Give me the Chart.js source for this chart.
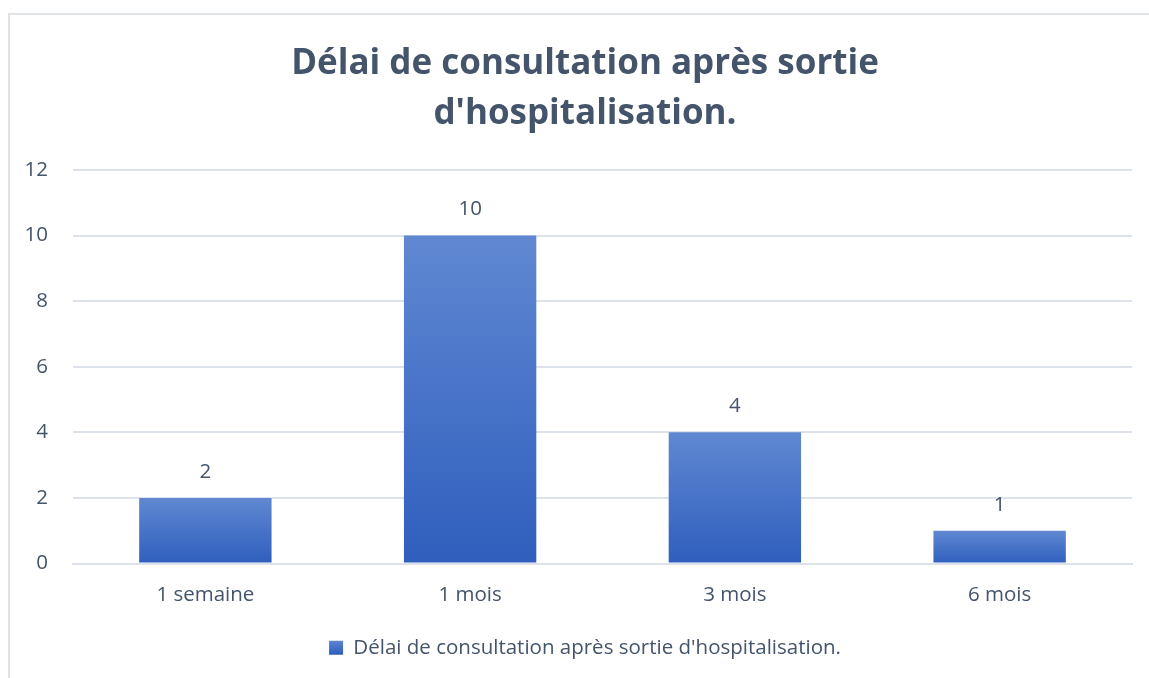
<!DOCTYPE html>
<html>
<head>
<meta charset="utf-8">
<script src="https://cdn.jsdelivr.net/npm/chart.js@4/dist/chart.umd.min.js"></script>
<style>
  html, body { margin: 0; padding: 0; background: #ffffff; }
  body { width: 1149px; height: 678px; position: relative; overflow: hidden; }
  #frame { position: absolute; left: 8px; top: 13px; width: 1200px; height: 720px; border: 2px solid #dfe3e8; box-sizing: border-box; }
  #wrap { position: absolute; left: 0; top: 0; width: 1149px; height: 678px; }
</style>
</head>
<body>
<div id="frame"></div>
<div id="wrap"><canvas id="c" width="1149" height="678"></canvas></div>
<script>
const titleLines = ["Délai de consultation après sortie", "d'hospitalisation."];
const seriesName = "Délai de consultation après sortie d'hospitalisation.";
const categories = ["1 semaine", "1 mois", "3 mois", "6 mois"];
const values = [2, 10, 4, 1];
const yTicks = [0, 2, 4, 6, 8, 10, 12];

const TEXT = '#44546a';
const FONT = '"Open Sans", "Noto Sans", sans-serif';
const FS = 20.5;
const TOP_COL = '#6088d2';
const BOT_COL = '#2f5ebd';

function barGradient(ctx) {
  const chart = ctx.chart;
  const y = chart.scales.y;
  if (!y || ctx.dataIndex === undefined) return BOT_COL;
  const v = chart.data.datasets[ctx.datasetIndex].data[ctx.dataIndex];
  const top = y.getPixelForValue(v);
  const bottom = y.getPixelForValue(0);
  if (!isFinite(top) || !isFinite(bottom) || top === bottom) return BOT_COL;
  const g = chart.ctx.createLinearGradient(0, top, 0, bottom);
  g.addColorStop(0, TOP_COL);
  g.addColorStop(1, BOT_COL);
  return g;
}

const valueLabels = {
  id: 'valueLabels',
  afterDatasetsDraw(chart) {
    const ctx = chart.ctx;
    const meta = chart.getDatasetMeta(0);
    ctx.save();
    ctx.font = FS + 'px ' + FONT;
    ctx.fillStyle = TEXT;
    ctx.textAlign = 'center';
    ctx.textBaseline = 'middle';
    meta.data.forEach((el, i) => {
      ctx.fillText(String(values[i]), el.x, el.y - 26);
    });
    ctx.restore();
  }
};

// centre title and legend on the frame rather than on the canvas
const shiftBlocks = {
  id: 'shiftBlocks',
  beforeDraw(chart) {
    if (chart.titleBlock) chart.titleBlock.left = 38;
    if (chart.legend) chart.legend.left = 38;
  }
};

new Chart(document.getElementById('c'), {
  type: 'bar',
  data: {
    labels: categories,
    datasets: [{
      label: seriesName,
      data: values,
      backgroundColor: barGradient,
      borderWidth: 0,
      categoryPercentage: 1.0,
      barPercentage: 0.5
    }]
  },
  options: {
    responsive: false,
    animation: false,
    layout: { padding: { left: 0, right: 17, top: 39, bottom: 10 } },
    plugins: {
      title: {
        display: true,
        text: titleLines,
        color: TEXT,
        font: { family: FONT, size: 35, weight: 'bold', lineHeight: 50 / 35 },
        padding: { top: 0, bottom: 31 }
      },
      legend: {
        display: true,
        position: 'bottom',
        labels: {
          color: TEXT,
          font: { family: FONT, size: FS },
          boxWidth: 14,
          boxHeight: 14,
          padding: 10,
          generateLabels(chart) {
            const g = chart.ctx.createLinearGradient(0, 640, 0, 654);
            g.addColorStop(0, TOP_COL);
            g.addColorStop(1, BOT_COL);
            return [{ text: seriesName, fillStyle: g, strokeStyle: 'rgba(0,0,0,0)', lineWidth: 0, datasetIndex: 0, fontColor: TEXT }];
          }
        }
      },
      tooltip: { enabled: false }
    },
    scales: {
      x: {
        afterFit(s) { s.height = 64; },
        grid: { display: false },
        border: { display: true, color: '#dde2ea', width: 2 },
        ticks: { color: TEXT, font: { family: FONT, size: FS }, padding: 11 }
      },
      y: {
        min: 0, max: 12,
        afterFit(s) { s.width = 73; },
        afterBuildTicks(s) { s.ticks = yTicks.map(v => ({ value: v })); },
        grid: { color: '#dde2ea', lineWidth: 2, drawTicks: false },
        border: { display: false },
        ticks: { color: TEXT, font: { family: FONT, size: FS }, padding: 25 }
      }
    }
  },
  plugins: [valueLabels, shiftBlocks]
});
</script>
</body>
</html>
